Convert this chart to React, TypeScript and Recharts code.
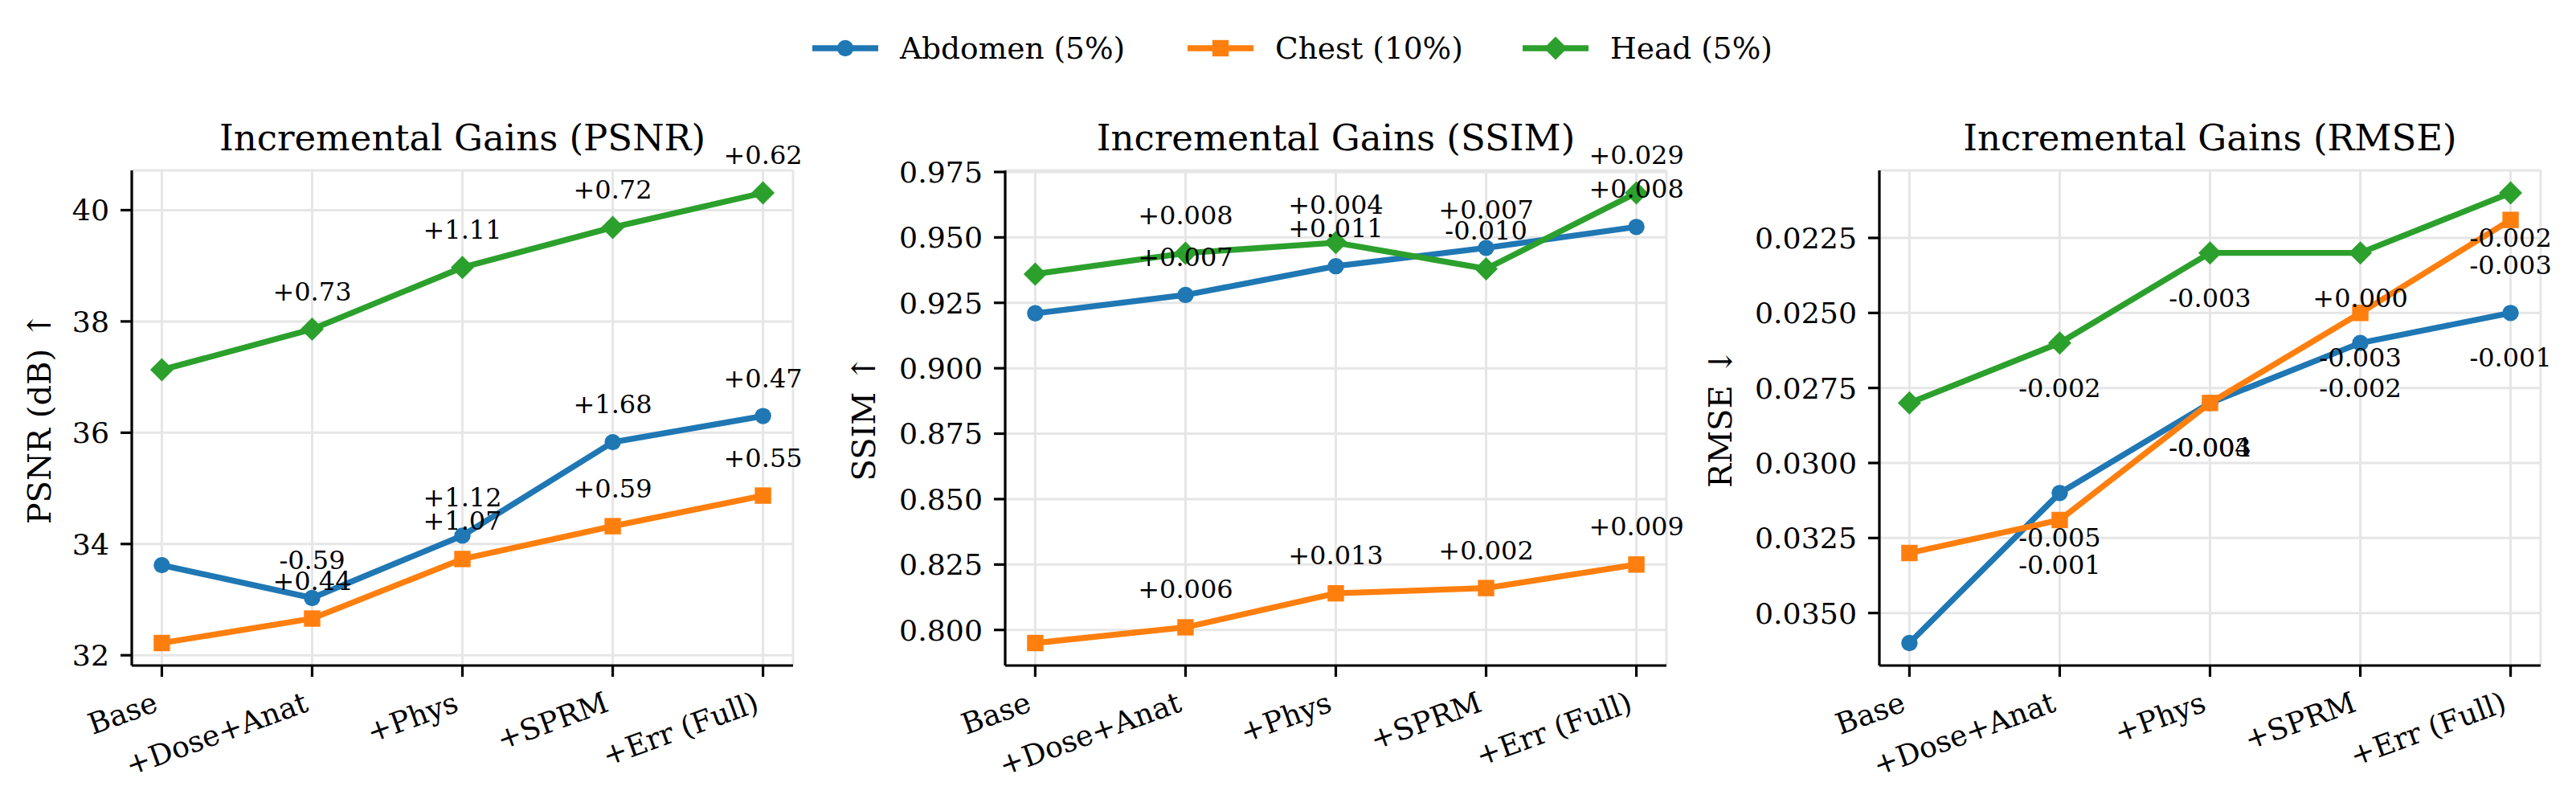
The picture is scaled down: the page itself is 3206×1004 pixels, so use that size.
import React from 'react';
import { LineChart, Line, XAxis, YAxis, CartesianGrid, LabelList } from 'recharts';

// ablation steps shared by the three panels
const steps = ['Base', '+Dose+Anat', '+Phys', '+SPRM', '+Err (Full)'];
const seriesNames = ['Abdomen (5%)', 'Chest (10%)', 'Head (5%)'];
const seriesColors = ['#1f77b4', '#ff7f0e', '#2ca02c'];

const psnrAbdomen = [33.62, 33.03, 34.15, 35.83, 36.3];
const psnrChest = [32.22, 32.66, 33.73, 34.32, 34.87];
const psnrHead = [37.13, 37.86, 38.97, 39.69, 40.31];
const psnrAbdomenGain = ['', '-0.59', '+1.12', '+1.68', '+0.47'];
const psnrChestGain = ['', '+0.44', '+1.07', '+0.59', '+0.55'];
const psnrHeadGain = ['', '+0.73', '+1.11', '+0.72', '+0.62'];
const psnrTicks = [32, 34, 36, 38, 40];

const ssimAbdomen = [0.921, 0.928, 0.939, 0.946, 0.954];
const ssimChest = [0.795, 0.801, 0.814, 0.816, 0.825];
const ssimHead = [0.936, 0.944, 0.948, 0.938, 0.967];
const ssimAbdomenGain = ['', '+0.007', '+0.011', '+0.007', '+0.008'];
const ssimChestGain = ['', '+0.006', '+0.013', '+0.002', '+0.009'];
const ssimHeadGain = ['', '+0.008', '+0.004', '-0.010', '+0.029'];
const ssimTicks = [0.8, 0.825, 0.85, 0.875, 0.9, 0.925, 0.95, 0.975];

const rmseAbdomen = [0.036, 0.031, 0.028, 0.026, 0.025];
const rmseChest = [0.033, 0.0319, 0.028, 0.025, 0.0219];
const rmseHead = [0.028, 0.026, 0.023, 0.023, 0.021];
const rmseAbdomenGain = ['', '-0.005', '-0.003', '-0.002', '-0.001'];
const rmseChestGain = ['', '-0.001', '-0.004', '-0.003', '-0.003'];
const rmseHeadGain = ['', '-0.002', '-0.003', '+0.000', '-0.002'];
const rmseTicks = [0.0225, 0.025, 0.0275, 0.03, 0.0325, 0.035];

const FONT = '"DejaVu Serif", serif';
const PLOT_TOP = 212;
const PLOT_BOTTOM = 828;
const PLOT_W = 823;
const Y_AXIS_W = 150;
const CHART_W = 1017;

type PanelDef = {
  title: string;
  yLabel: string;
  plotLeft: number;
  yLabelX: number;
  ticks: number[];
  digits: number;
  reversed: boolean;
  below: boolean;
  values: number[][];
  gains: string[][];
};

const panels: PanelDef[] = [
  {
    title: 'Incremental Gains (PSNR)',
    yLabel: 'PSNR (dB) \u2191',
    plotLeft: 164,
    yLabelX: 63,
    ticks: psnrTicks,
    digits: 0,
    reversed: false,
    below: false,
    values: [psnrAbdomen, psnrChest, psnrHead],
    gains: [psnrAbdomenGain, psnrChestGain, psnrHeadGain],
  },
  {
    title: 'Incremental Gains (SSIM)',
    yLabel: 'SSIM \u2191',
    plotLeft: 1251,
    yLabelX: 1089,
    ticks: ssimTicks,
    digits: 3,
    reversed: false,
    below: false,
    values: [ssimAbdomen, ssimChest, ssimHead],
    gains: [ssimAbdomenGain, ssimChestGain, ssimHeadGain],
  },
  {
    title: 'Incremental Gains (RMSE)',
    yLabel: 'RMSE \u2193',
    plotLeft: 2339,
    yLabelX: 2155,
    ticks: rmseTicks,
    digits: 4,
    reversed: true,
    below: true,
    values: [rmseAbdomen, rmseChest, rmseHead],
    gains: [rmseAbdomenGain, rmseChestGain, rmseHeadGain],
  },
];

const keys = ['abd', 'chest', 'head'];
const shapes = ['circle', 'square', 'diamond'];

const makeDot = (shape: string, color: string) => (p: any) => {
  const { cx, cy, index } = p;
  if (cx == null || cy == null) return <g key={index} />;
  if (shape === 'circle') return <circle key={index} cx={cx} cy={cy} r={10.2} fill={color} />;
  if (shape === 'square')
    return <rect key={index} x={cx - 10.2} y={cy - 10.2} width={20.4} height={20.4} fill={color} />;
  const h = 14.5;
  return (
    <polygon
      key={index}
      points={`${cx},${cy - h} ${cx + h},${cy} ${cx},${cy + h} ${cx - h},${cy}`}
      fill={color}
    />
  );
};

const makeGainLabel = (below: boolean) => (p: any) => {
  if (!p.value) return null;
  return (
    <text
      x={p.x}
      y={p.y + (below ? 67 : -36)}
      textAnchor="middle"
      fontSize={32}
      fontFamily={FONT}
      fill="#000"
    >
      {p.value}
    </text>
  );
};

const XTick = (p: any) => {
  const { x, y, payload } = p;
  const tx = x - 3;
  const ty = y + 28;
  return (
    <text
      x={tx}
      y={ty}
      textAnchor="end"
      fontSize={36.3}
      fontFamily={FONT}
      fill="#000"
      transform={`rotate(-20 ${tx} ${ty})`}
    >
      {steps[payload.value]}
    </text>
  );
};

const Panel = ({ def }: { def: PanelDef }) => {
  const all = def.values.flat();
  const lo = Math.min(...all);
  const hi = Math.max(...all);
  const pad = (hi - lo) * 0.05;
  const rows = steps.map((s, i) => {
    const row: any = { x: i, step: s };
    keys.forEach((k, j) => {
      row[k] = def.values[j][i];
      row[k + 'Gain'] = def.gains[j][i];
    });
    return row;
  });
  const left = def.plotLeft - Y_AXIS_W - 14;
  return (
    <div style={{ position: 'absolute', left, top: 0 }}>
      <LineChart
        width={CHART_W}
        height={1004}
        data={rows}
        margin={{ top: PLOT_TOP, right: CHART_W - 14 - Y_AXIS_W - PLOT_W, bottom: 0, left: 14 }}
      >
        <CartesianGrid stroke="#e6e6e6" strokeWidth={3} />
        <XAxis
          type="number"
          dataKey="x"
          domain={[-0.2, 4.2]}
          ticks={[0, 1, 2, 3, 4]}
          interval={0}
          height={1004 - PLOT_BOTTOM}
          tickSize={14}
          tickMargin={14}
          tick={<XTick />}
          axisLine={{ stroke: '#000', strokeWidth: 3.2 }}
          tickLine={{ stroke: '#000', strokeWidth: 3.2 }}
        />
        <YAxis
          type="number"
          domain={[lo - pad, hi + pad]}
          ticks={def.ticks}
          interval={0}
          reversed={def.reversed}
          width={Y_AXIS_W}
          tickSize={14}
          tickMargin={14}
          tickFormatter={(v: number) => v.toFixed(def.digits)}
          tick={{ fontSize: 36.3, fontFamily: FONT, fill: '#000' }}
          axisLine={{ stroke: '#000', strokeWidth: 3.2 }}
          tickLine={{ stroke: '#000', strokeWidth: 3.2 }}
        />
        {keys.map((k, j) => (
          <Line
            key={k}
            type="linear"
            dataKey={k}
            stroke={seriesColors[j]}
            strokeWidth={7.3}
            dot={makeDot(shapes[j], seriesColors[j])}
            activeDot={false}
            isAnimationActive={false}
          >
            <LabelList dataKey={k + 'Gain'} content={makeGainLabel(def.below)} />
          </Line>
        ))}
      </LineChart>
    </div>
  );
};

const legendItems = [
  { x: 1011, textX: 1120 },
  { x: 1478, textX: 1587 },
  { x: 1895, textX: 2004 },
];

const LegendHandle = ({ i, x }: { i: number; x: number }) => {
  const c = seriesColors[i];
  const cx = x + 41;
  const cy = 60;
  return (
    <g>
      <line x1={x} x2={x + 82} y1={cy} y2={cy} stroke={c} strokeWidth={7.3} />
      {makeDot(shapes[i], c)({ cx, cy, index: i })}
    </g>
  );
};

export default function App() {
  return (
    <div
      style={{
        position: 'absolute',
        left: 0,
        top: 0,
        width: 3206,
        height: 1004,
        background: '#fff',
        fontFamily: FONT,
      }}
    >
      {panels.map((p) => (
        <Panel key={p.title} def={p} />
      ))}
      <svg
        width={3206}
        height={1004}
        style={{ position: 'absolute', left: 0, top: 0, pointerEvents: 'none' }}
      >
        {panels.map((p) => (
          <g key={p.title}>
            <text
              x={p.plotLeft + PLOT_W / 2}
              y={187}
              textAnchor="middle"
              fontSize={45}
              fontFamily={FONT}
              fill="#000"
            >
              {p.title}
            </text>
            <text
              x={p.yLabelX}
              y={(PLOT_TOP + PLOT_BOTTOM) / 2}
              textAnchor="middle"
              fontSize={40}
              fontFamily={FONT}
              fill="#000"
              transform={`rotate(-90 ${p.yLabelX} ${(PLOT_TOP + PLOT_BOTTOM) / 2})`}
            >
              {p.yLabel}
            </text>
          </g>
        ))}
        {legendItems.map((it, i) => (
          <g key={seriesNames[i]}>
            <LegendHandle i={i} x={it.x} />
            <text x={it.textX} y={73} fontSize={37.5} fontFamily={FONT} fill="#000">
              {seriesNames[i]}
            </text>
          </g>
        ))}
      </svg>
    </div>
  );
}
